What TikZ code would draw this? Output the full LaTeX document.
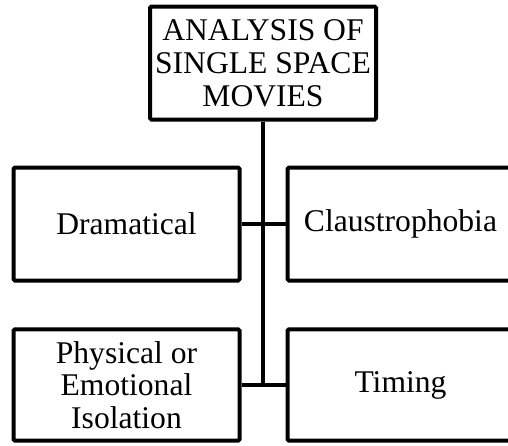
\documentclass[tikz,border=0pt]{standalone}
\usepackage{fontspec}
\setmainfont{Liberation Serif}
\begin{document}
\begin{tikzpicture}[x=0.75pt,y=-0.75pt,
  box/.style={draw=black, line width=3pt, rounded corners=1pt, fill=white,
    minimum width=169.5pt, inner sep=2pt, align=center,
    font=\fontsize{23.7}{24.6}\selectfont},
  midbox/.style={box, minimum height=84.75pt},
  lowbox/.style={box, minimum height=83.6pt},
  link/.style={line width=3pt}]
\useasboundingbox (0,0) rectangle (508,446);
\clip (0,0) rectangle (508,446);
\node[box, minimum height=84.75pt] (top) at (263,63) {ANALYSIS OF\\SINGLE SPACE\\MOVIES};
\node[midbox] (ml) at (126.5,224) {Dramatical};
\node[midbox] (mr) at (400.5,224) {Claustrophobia};
\node[lowbox] (bl) at (126.5,385) {Physical or\\Emotional\\Isolation};
\node[lowbox] (br) at (400.5,385) {Timing};
\coordinate (j) at (top.south |- bl.east);
\draw[link] (top.south) -- (j);
\draw[link] (ml.east) -- (mr.west);
\draw[link] (bl.east) -- (br.west);
\end{tikzpicture}
\end{document}
